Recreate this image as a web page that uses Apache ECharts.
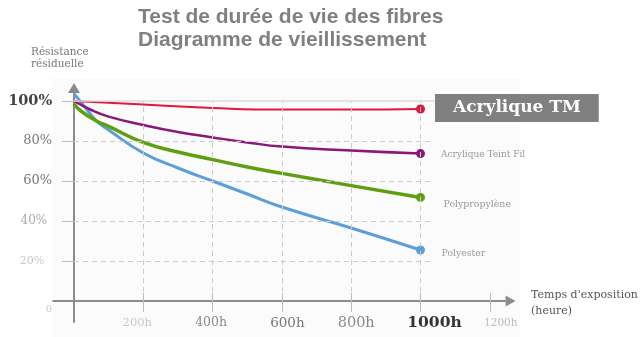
<!DOCTYPE html>
<html>
<head>
<meta charset="utf-8">
<title>Test de durée de vie des fibres</title>
<script src="https://cdn.jsdelivr.net/npm/echarts@6/dist/echarts.min.js"></script>
<style>
  html, body { margin: 0; padding: 0; background: #ffffff; }
  #chart { width: 640px; height: 337px; }
</style>
</head>
<body>
<div id="chart"></div>
<script>
// Residual strength (%) versus exposure time (hours), one list of [hours, %] per fibre
const acryliqueTM = [[0, 100], [200, 98.2], [400, 96.5], [600, 95.7], [800, 95.7], [1000, 96]];
const acryliqueTeintFil = [[0, 100], [50, 95.5], [100, 92.2], [200, 88], [300, 84.5], [400, 81.8], [500, 79.3], [600, 77.2], [800, 75.2], [1000, 73.7]];
const polypropylene = [[0, 98.5], [20, 95], [65, 90], [100, 87.3], [200, 79.3], [300, 74.5], [400, 70.7], [500, 67], [600, 63.8], [800, 57.7], [1000, 51.8]];
const polyester = [[0, 103.5], [20, 99.5], [65, 90], [100, 85.5], [200, 74], [300, 66.5], [400, 60], [500, 53.5], [600, 47], [800, 36.5], [1000, 25.5]];

const seriesNames = ['Acrylique TM', 'Acrylique Teint Fil', 'Polypropylène', 'Polyester'];

// Axis ticks and labels
const yTickValues = [20, 40, 60, 80, 100];
const yLabelValues = [0, 20, 40, 60, 80, 100];
const yLabelTexts = ['0', '20%', '40%', '60%', '80%', '100%'];
const xTickValues = [200, 400, 600, 800, 1000, 1200];
const xLabelTexts = ['200h', '400h', '600h', '800h', '1000h', '1200h'];

const SERIF = 'DejaVu Serif';

const yStyleKeys = ['z', 'e', 'd', 'c', 'b', 'a'];
const xStyleKeys = ['p1', 'p2', 'p3', 'p4', 'p5', 'p6'];

function fibreSeries(name, points, color, width, labelOpts) {
  const data = points.map(function (p, i) {
    if (i < points.length - 1) return { value: p };
    return {
      value: p,
      symbol: 'circle',
      symbolSize: 9,
      label: Object.assign({ show: true, position: 'right', formatter: name }, labelOpts)
    };
  });
  return {
    type: 'line',
    name: name,
    data: data,
    smooth: 0.5,
    symbol: 'none',
    showSymbol: true,
    lineStyle: { color: color, width: width },
    itemStyle: { color: color },
    emphasis: { disabled: true },
    silent: true,
    z: 3
  };
}

// Guide lines and tick marks drawn in data space
const dashed = { color: '#cccccc', width: 1, type: [5, 4] };
const tickStyle = { color: '#bdbdbd', width: 1, type: 'solid' };
const guideLines = [];
yTickValues.forEach(function (v) {
  guideLines.push([{ coord: [-35, v], lineStyle: tickStyle }, { coord: [0, v] }]);
  if (v === 100) {
    guideLines.push([{ coord: [0, v], lineStyle: { color: '#dcdcdc', width: 1.5, type: 'solid' } }, { coord: [1042, v] }]);
  } else {
    guideLines.push([{ coord: [0, v], lineStyle: dashed }, { coord: [1033, v] }]);
  }
});
xTickValues.forEach(function (h) {
  if (h <= 1000) {
    guideLines.push([{ coord: [h, 0], lineStyle: dashed }, { coord: [h, 100] }]);
  }
  guideLines.push([{ coord: [h, 4], lineStyle: tickStyle }, { coord: [h, -5.5] }]);
});

const chart = echarts.init(document.getElementById('chart'), null, { renderer: 'canvas' });

chart.setOption({
  animation: false,
  backgroundColor: '#ffffff',
  title: [
    {
      text: 'Test de durée de vie des fibres\nDiagramme de vieillissement',
      left: 138, top: 6, padding: 0,
      textStyle: { fontFamily: 'Liberation Sans', fontWeight: 'bold', fontSize: 21, lineHeight: 23, color: '#808080' }
    },
    {
      text: 'Résistance\nrésiduelle',
      left: 31, top: 46, padding: 0,
      textStyle: { fontFamily: SERIF, fontWeight: 'normal', fontSize: 10.5, lineHeight: 12, color: '#777777' }
    },
    {
      text: "Temps d'exposition\n(heure)",
      left: 531, top: 287, padding: 0,
      textStyle: { fontFamily: SERIF, fontWeight: 'normal', fontSize: 11, lineHeight: 16, color: '#555555' }
    }
  ],
  graphic: [
    { type: 'rect', silent: true, z: -10, shape: { x: 52, y: 78, width: 468, height: 259 }, style: { fill: '#fbfbfb' } }
  ],
  grid: { left: 53.2, right: 129.4, top: 88, bottom: 15, containLabel: false, outerBoundsMode: 'none' },
  xAxis: {
    type: 'value',
    min: -60,
    max: 1260,
    axisLine: { show: true, onZero: true, symbol: ['none', 'triangle'], symbolSize: [11, 10], lineStyle: { color: '#8c8c8c', width: 2 } },
    axisTick: { show: false },
    splitLine: { show: false },
    axisLabel: {
      customValues: xTickValues,
      margin: -8,
      fontFamily: SERIF,
      formatter: function (v) {
        const i = xTickValues.indexOf(v);
        return i < 0 ? '' : '{' + xStyleKeys[i] + '|' + xLabelTexts[i] + '}';
      },
      rich: {
        p1: { fontFamily: SERIF, fontSize: 11.5, color: '#c8c8c8', lineHeight: 18, padding: [0, 12, 0, 0] },
        p2: { fontFamily: SERIF, fontSize: 12.5, color: '#8a8a8a', lineHeight: 18, padding: [0, 3, 0, 0] },
        p3: { fontFamily: SERIF, fontSize: 13.5, color: '#777777', lineHeight: 18, padding: [0, 0, 0, 11] },
        p4: { fontFamily: SERIF, fontSize: 14.5, color: '#888888', lineHeight: 18, padding: [0, 0, 0, 10] },
        p5: { fontFamily: SERIF, fontSize: 15.5, fontWeight: 'bold', color: '#333333', lineHeight: 18, padding: [0, 0, 0, 28] },
        p6: { fontFamily: SERIF, fontSize: 10.5, color: '#bbbbbb', lineHeight: 18, padding: [0, 0, 0, 22] }
      }
    }
  },
  yAxis: {
    type: 'value',
    min: -10.5,
    max: 106.5,
    axisLine: { show: true, onZero: true, symbol: ['none', 'triangle'], symbolSize: [12, 10], lineStyle: { color: '#8c8c8c', width: 2 } },
    axisTick: { show: false },
    splitLine: { show: false },
    axisLabel: {
      customValues: yLabelValues,
      margin: 1,
      formatter: function (v) {
        const i = yLabelValues.indexOf(v);
        return i < 0 ? '' : '{' + yStyleKeys[i] + '|' + yLabelTexts[i] + '}';
      },
      rich: {
        a: { fontFamily: SERIF, fontSize: 14.5, fontWeight: 'bold', color: '#444444' },
        b: { fontFamily: SERIF, fontSize: 13, color: '#7a7a7a' },
        c: { fontFamily: SERIF, fontSize: 13, color: '#777777' },
        d: { fontFamily: SERIF, fontSize: 12, color: '#aaaaaa', padding: [0, 5, 0, 0] },
        e: { fontFamily: SERIF, fontSize: 11, color: '#c8c8c8', padding: [0, 8, 0, 0] },
        z: { fontFamily: SERIF, fontSize: 10, color: '#c8c8c8', padding: [16, 0, 0, 0] }
      }
    }
  },
  series: [
    {
      type: 'line',
      data: [],
      silent: true,
      z: 1,
      markLine: { silent: true, symbol: ['none', 'none'], label: { show: false }, emphasis: { disabled: true }, data: guideLines }
    },
    fibreSeries(seriesNames[3], polyester, '#5b9fd6', 3, {
      distance: 16.5, offset: [0, 4], color: '#999999', fontFamily: SERIF, fontSize: 9.3
    }),
    fibreSeries(seriesNames[2], polypropylene, '#5f9e12', 3.5, {
      distance: 18.5, offset: [0, 7], color: '#999999', fontFamily: SERIF, fontSize: 9.4
    }),
    fibreSeries(seriesNames[1], acryliqueTeintFil, '#8a1878', 2.5, {
      distance: 16, offset: [0, 1], color: '#999999', fontFamily: SERIF, fontSize: 9
    }),
    fibreSeries(seriesNames[0], acryliqueTM, '#e3173e', 2, {
      distance: 10, offset: [0, -1], color: '#ffffff', fontFamily: SERIF, fontWeight: 'bold', fontSize: 17,
      backgroundColor: '#808080', padding: [6, 18, 5, 18]
    })
  ]
});
</script>
</body>
</html>
